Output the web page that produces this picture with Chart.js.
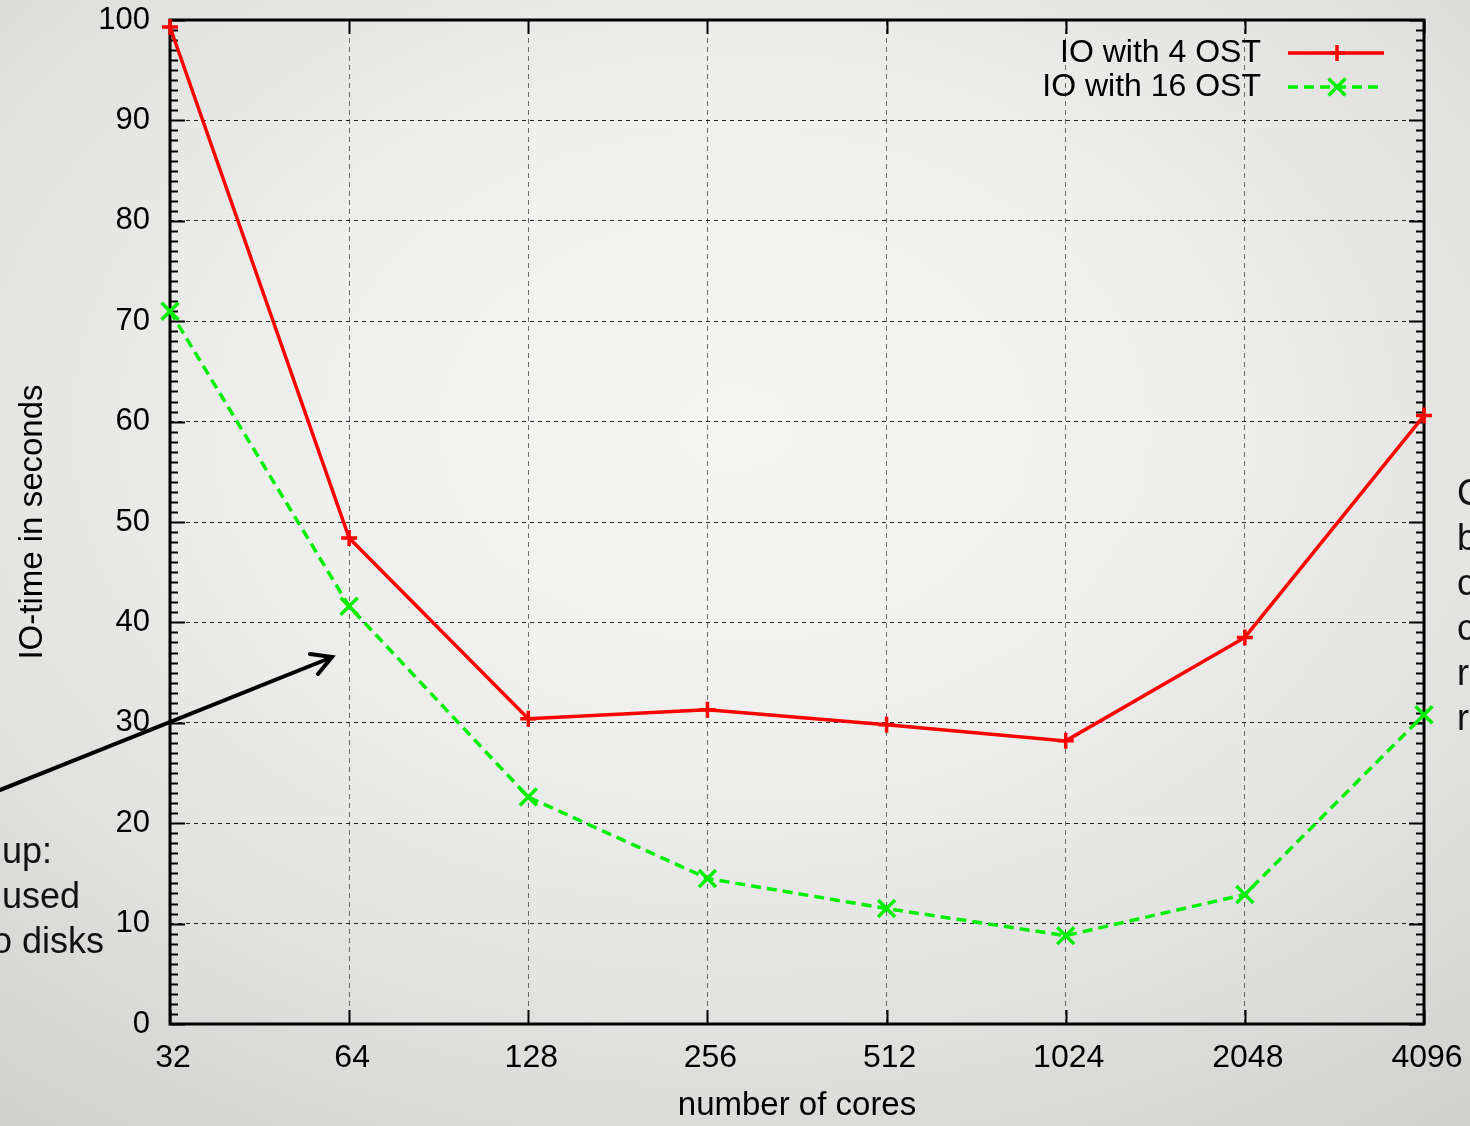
<!DOCTYPE html>
<html>
<head>
<meta charset="utf-8">
<script src="https://cdn.jsdelivr.net/npm/chart.js@4/dist/chart.umd.min.js"></script>
<style>
  html, body { margin: 0; padding: 0; width: 1470px; height: 1126px; overflow: hidden; }
  body {
    position: relative;
    font-family: 'Liberation Sans', Arial, sans-serif;
    background: radial-gradient(ellipse 85% 80% at 50% 38%, #f5f5f4 0%, #efefee 35%, #e2e3e1 65%, #cfd0cd 100%);
  }
  #wrap { position: absolute; left: 0; top: 0; width: 1470px; height: 1126px; }
  .note { position: absolute; font-size: 36px; line-height: 45px; color: #111; white-space: pre; }
  svg { position: absolute; left: 0; top: 0; pointer-events: none; }
</style>
</head>
<body>
<div id="wrap"><canvas id="c" width="1470" height="1126"></canvas></div>

<div class="note" style="left:2px; top:828px;">up:</div>
<div class="note" style="left:2px; top:873px;">used</div>
<div class="note" style="left:-8px; top:918px;">o disks</div>
<div class="note" style="left:1457px; top:470px;">C
b
c
c
r
r</div>

<svg width="1470" height="1126">
  <line x1="-5" y1="792" x2="330" y2="658" stroke="#000" stroke-width="4" stroke-linecap="round"/>
  <polyline points="310,654 332,657 318,674" fill="none" stroke="#000" stroke-width="4" stroke-linecap="round" stroke-linejoin="miter"/>
</svg>

<script>
// Number of cores (log2 spaced categories)
const coreCounts = ['32', '64', '128', '256', '512', '1024', '2048', '4096'];
// IO time in seconds
const ioTime4Ost  = [99.3, 48.4, 30.4, 31.3, 29.8, 28.2, 38.5, 60.6];
const ioTime16Ost = [71.0, 41.6, 22.6, 14.5, 11.5, 8.8, 12.9, 30.8];
const seriesNames = ['IO with 4 OST', 'IO with 16 OST'];
const xTitle = 'number of cores';
const yTitle = 'IO-time in seconds';
const yMin = 0, yMax = 100, yStep = 10, yMinorStep = 1;

const SANS = "'Liberation Sans', Arial, sans-serif";

// Frame with inward major/minor ticks on all four sides
const frameTicks = {
  id: 'frameTicks',
  beforeDatasetsDraw(chart) {
    const { ctx, chartArea: a, scales: { x, y } } = chart;
    const seg = (x1, y1, x2, y2) => { ctx.beginPath(); ctx.moveTo(x1, y1); ctx.lineTo(x2, y2); ctx.stroke(); };
    ctx.save();
    ctx.strokeStyle = '#000';
    ctx.lineWidth = 2;
    ctx.setLineDash([]);
    for (let v = yMin; v <= yMax; v += yMinorStep) {
      const py = Math.round(y.getPixelForValue(v)) + 0.5;
      const len = (v % yStep === 0) ? 15 : 8;
      seg(a.left, py, a.left + len, py);
      seg(a.right, py, a.right - len, py);
    }
    coreCounts.forEach((_, i) => {
      const px = Math.round(x.getPixelForValue(i)) + 0.5;
      seg(px, a.bottom, px, a.bottom - 14);
      seg(px, a.top, px, a.top + 14);
    });
    ctx.lineWidth = 3;
    ctx.strokeRect(a.left, a.top, a.right - a.left, a.bottom - a.top);
    ctx.restore();
  }
};

// Key in the top-right corner: label text, then a line sample with its marker
const cornerKey = {
  id: 'cornerKey',
  afterDraw(chart) {
    const { ctx } = chart;
    ctx.save();
    chart.data.datasets.forEach((ds, i) => {
      const ty = 53 + i * 34;
      ctx.font = '32px ' + SANS;
      ctx.fillStyle = '#000';
      ctx.textAlign = 'right';
      ctx.textBaseline = 'middle';
      ctx.fillText(ds.label, 1261, ty);
      ctx.strokeStyle = ds.borderColor;
      ctx.lineWidth = ds.borderWidth;
      ctx.setLineDash(ds.borderDash || []);
      ctx.beginPath(); ctx.moveTo(1288, ty); ctx.lineTo(1384, ty); ctx.stroke();
      ctx.setLineDash([]);
      ctx.lineWidth = ds.pointBorderWidth;
      const cx = 1337;
      ctx.beginPath();
      if (ds.pointStyle === 'cross') {
        const r = ds.pointRadius;
        ctx.moveTo(cx - r, ty); ctx.lineTo(cx + r, ty);
        ctx.moveTo(cx, ty - r); ctx.lineTo(cx, ty + r);
      } else {
        const r = ds.pointRadius * Math.SQRT1_2;
        ctx.moveTo(cx - r, ty - r); ctx.lineTo(cx + r, ty + r);
        ctx.moveTo(cx - r, ty + r); ctx.lineTo(cx + r, ty - r);
      }
      ctx.stroke();
    });
    ctx.restore();
  }
};

new Chart(document.getElementById('c'), {
  type: 'line',
  data: {
    labels: coreCounts,
    datasets: [
      {
        label: seriesNames[0], data: ioTime4Ost,
        borderColor: '#ff0000', backgroundColor: '#ff0000',
        borderWidth: 3.5, pointStyle: 'cross', pointRadius: 8, pointBorderWidth: 3.5,
        fill: false, tension: 0, clip: false
      },
      {
        label: seriesNames[1], data: ioTime16Ost,
        borderColor: '#00ee00', backgroundColor: '#00ee00',
        borderWidth: 3.5, borderDash: [10, 6], pointStyle: 'crossRot', pointRadius: 12, pointBorderWidth: 3.5,
        fill: false, tension: 0, clip: false
      }
    ]
  },
  options: {
    responsive: false,
    animation: false,
    devicePixelRatio: 1,
    layout: { padding: { top: 20, right: 46, left: 0, bottom: 0 } },
    plugins: { legend: { display: false }, tooltip: { enabled: false } },
    scales: {
      x: {
        type: 'category',
        offset: false,
        grid: { color: 'rgba(0,0,0,0.55)', lineWidth: 1, drawTicks: false },
        border: { display: false, dash: [5, 4] },
        ticks: { color: '#000', font: { family: SANS, size: 32 }, padding: 15, labelOffset: 3, maxRotation: 0, autoSkip: false },
        title: { display: true, text: xTitle, color: '#000', font: { family: SANS, size: 33 }, padding: 0 },
        afterFit(s) { s.height = 102; s.paddingLeft = 0; s.paddingRight = 0; }
      },
      y: {
        min: yMin, max: yMax,
        grid: { color: 'rgba(0,0,0,0.85)', lineWidth: 1, drawTicks: false },
        border: { display: false, dash: [4, 4] },
        ticks: { stepSize: yStep, color: '#000', font: { family: SANS, size: 31 }, padding: 20 },
        title: { display: true, text: yTitle, color: '#000', font: { family: SANS, size: 33 }, padding: { top: 13, bottom: 0 } },
        afterFit(s) { s.width = 170; s.paddingTop = 0; s.paddingBottom = 0; }
      }
    }
  },
  plugins: [frameTicks, cornerKey]
});
</script>
</body>
</html>
